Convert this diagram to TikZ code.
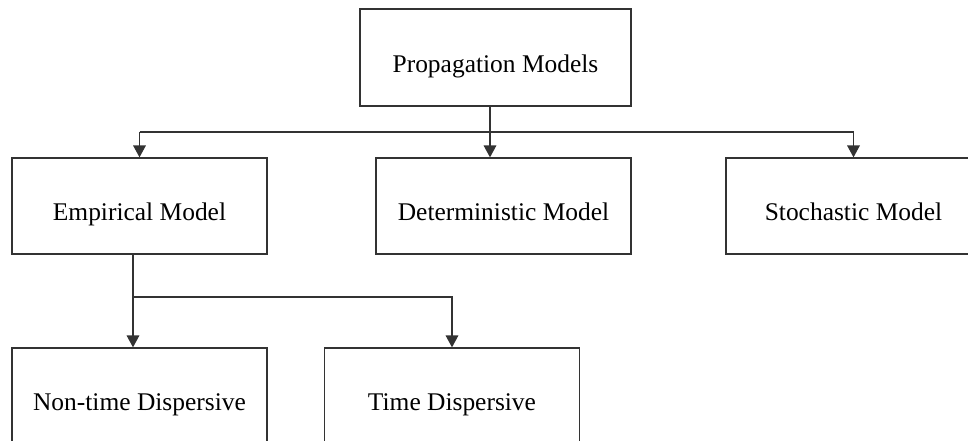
\documentclass[tikz,border=0pt]{standalone}
\usepackage{fontspec}
\setmainfont{Liberation Serif}
\usetikzlibrary{arrows.meta}

\def \lineWidth {0.9pt}
\tikzset{
  model/.style={draw=black!80, line width=\lineWidth, minimum width=6.375cm,
    minimum height=2.4cm, inner sep=0pt, text height=0.725cm, text depth=0pt,
    font=\fontsize{18.1}{21}\selectfont},
  link/.style={draw=black!80, line width=\lineWidth},
  arrow/.style={link, -{Triangle[width=9pt,length=8.5pt]}}
}

\begin{document}
\begin{tikzpicture}[x=0.025cm, y=-0.025cm]
         \useasboundingbox (0,0) rectangle (968,441);
         \clip (0,0) rectangle (968,441);
         \node[model, minimum width=6.775cm, minimum height=2.425cm] (prop) at (495.5,57.5) {Propagation Models};
         \node[model] (emp) at (139.5,206) {Empirical Model};
         \node[model] (det) at (503.5,206) {Deterministic Model};
         \node[model] (sto) at (853.5,206) {Stochastic Model};
         \node[model] (ntd) at (139.5,396) {Non-time Dispersive};
         \node[model] (td)  at (452,396) {Time Dispersive};
         % first level
         \coordinate (bus) at (490,132);
         \draw[link] (prop.south -| bus) -- (bus);
         \draw[link] (emp.north |- bus) -- (sto.north |- bus);
         \draw[arrow] (emp.north |- bus) -- (emp.north);
         \draw[arrow] (bus) -- (bus |- det.north);
         \draw[arrow] (sto.north |- bus) -- (sto.north);
         % second level
         \coordinate (fork) at (133,297);
         \draw[link] (emp.south -| fork) -- (fork);
         \draw[arrow] (fork) -- (fork |- ntd.north);
         \draw[arrow] (fork) -| (td.north);
      \end{tikzpicture}
\end{document}
